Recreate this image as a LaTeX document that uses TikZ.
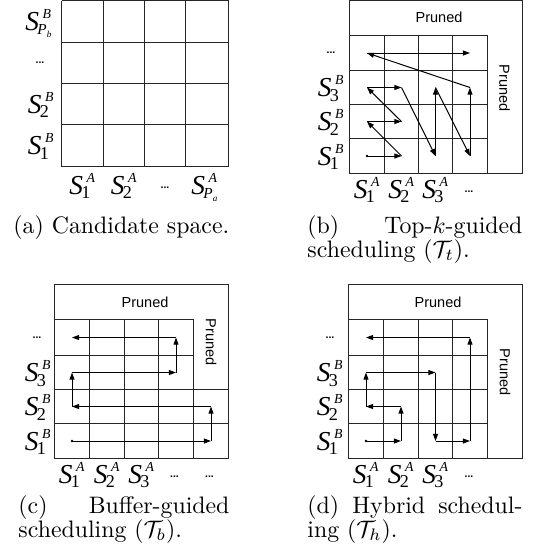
\documentclass[tikz,border=0pt]{standalone}
\usepackage{fontspec}
\usetikzlibrary{arrows.meta}
\newfontfamily\serifT{Liberation Serif}
\newfontfamily\serifI{Liberation Serif Italic}
\newfontfamily\sansH{Liberation Sans}
\newcommand{\lblS}[2]{%
 {\serifI\fontsize{11.5}{13}\selectfont S}%
 \rlap{\raisebox{5pt}{\serifI\fontsize{5.8}{6}\selectfont\kern1.5pt #2}}%
 \raisebox{-2pt}{\serifT\fontsize{7.6}{8}\selectfont\kern-0.7pt #1}\kern2.2pt}
\newcommand{\Psub}[1]{{\serifI\fontsize{6.4}{7}\selectfont P}\raisebox{-1.3pt}{\serifI\fontsize{3.8}{4}\selectfont #1}}
\begin{document}
\begin{tikzpicture}[x=0.42pt,y=-0.42pt,
  gridln/.style={draw=black!85, line width=0.42pt},
  flowarr/.style={-{Triangle[length=3pt,width=2.1pt]}, line width=0.42pt},
  slbl/.style={inner sep=0pt, anchor=base},
  dotlbl/.style={inner sep=0pt, font=\sansH\bfseries\fontsize{4.4}{5}\selectfont},
  prlbl/.style={inner sep=0pt, font=\sansH\fontsize{6.1}{7}\selectfont},
  captxt/.style={inner sep=0pt, anchor=base west, font=\fontsize{10}{12}\selectfont}]
\useasboundingbox (0,0) rectangle (533,555);

% ---------------- (a) ----------------
\foreach \x in {61.5,103.5,144.5,185.5,228.5} \draw[gridln] (\x,0.5) -- (\x,166.5);
\foreach \y in {0.5,42.5,83.5,124.5,166.5} \draw[gridln] (61.5,\y) -- (228.5,\y);
\node[slbl] (aL4) at (41,30) {\lblS{\Psub{b}}{B}};
\node[dotlbl] (aL3) at (40,63) {...};
\node[slbl] (aL2) at (41,113) {\lblS{2}{B}};
\node[slbl] (aL1) at (41,154.5) {\lblS{1}{B}};
\node[slbl] (aC1) at (82.5,194) {\lblS{1}{A}};
\node[slbl] (aC2) at (124,194) {\lblS{2}{A}};
\node[dotlbl] (aC3) at (165,188) {...};
\node[slbl] (aC4) at (207,194) {\lblS{\Psub{a}}{A}};
\node[captxt] (capa) at (13,233) {(a) Candidate space.};

% ---------------- (b) ----------------
\draw[gridln] (349.5,0.5) rectangle (522.5,173.5);
\foreach \x in {384.5,418.5,452.5,487.5} \draw[gridln] (\x,35.5) -- (\x,173.5);
\foreach \y in {35.5,70.5,104.5,138.5} \draw[gridln] (349.5,\y) -- (487.5,\y);
\node[prlbl] (bP1) at (439,17) {Pruned};
\node[prlbl,rotate=-90] (bP2) at (504.5,88) {Pruned};
\node[dotlbl] (bL4) at (331,53) {...};
\node[slbl] (bL3) at (331,96.5) {\lblS{3}{B}};
\node[slbl] (bL2) at (331,130.5) {\lblS{2}{B}};
\node[slbl] (bL1) at (331,165) {\lblS{1}{B}};
\node[slbl] (bC1) at (367,198) {\lblS{1}{A}};
\node[slbl] (bC2) at (401.5,198) {\lblS{2}{A}};
\node[slbl] (bC3) at (435.5,198) {\lblS{3}{A}};
\node[dotlbl] (bC4) at (469,192) {...};
\foreach \i/\x in {1/367,2/401.5,3/435.5,4/470}
  \foreach \j/\y in {1/156,2/121.5,3/87.5,4/53}
    \coordinate (b\i\j) at (\x,\y);
\fill (b11) circle (0.6pt);
\draw[flowarr] (b11) -- (b21);
\draw[flowarr] (b21) -- (b12);
\draw[flowarr] (b12) -- (b22);
\draw[flowarr] (b22) -- (b13);
\draw[flowarr] (b13) -- (b23);
\draw[flowarr] (b23) -- (b31);
\draw[flowarr] (b31) -- (b33);
\draw[flowarr] (b33) -- (b41);
\draw[flowarr] (b41) -- (b43);
\draw[flowarr] (b43) -- (b14);
\draw[flowarr] (b14) -- (b44);
\node[captxt] (capb1) at (307,233) {\hbox to 90.3pt{(b)\hfill Top-$k$-guided}};
\node[captxt] (capb2) at (307,257) {scheduling ($\mathcal{T}_t$).};

% ---------------- (c) ----------------
\draw[gridln] (54.5,284.5) rectangle (228.5,458.5);
\foreach \x in {89.5,124.5,158.5,193.5} \draw[gridln] (\x,319.5) -- (\x,458.5);
\foreach \y in {319.5,355.5} \draw[gridln] (54.5,\y) -- (193.5,\y);
\foreach \y in {389.5,423.5} \draw[gridln] (54.5,\y) -- (228.5,\y);
\node[prlbl] (cP1) at (145,302) {Pruned};
\node[prlbl,rotate=-90] (cP2) at (211,342) {Pruned};
\node[dotlbl] (cL4) at (37,337.5) {...};
\node[slbl] (cL3) at (38,381.5) {\lblS{3}{B}};
\node[slbl] (cL2) at (38,415.5) {\lblS{2}{B}};
\node[slbl] (cL1) at (38,450) {\lblS{1}{B}};
\node[slbl] (cC1) at (72,483) {\lblS{1}{A}};
\node[slbl] (cC2) at (107,483) {\lblS{2}{A}};
\node[slbl] (cC3) at (141.5,483) {\lblS{3}{A}};
\node[dotlbl] (cC4) at (174.5,477) {...};
\node[dotlbl] (cC5) at (209.5,477) {...};
\foreach \i/\x in {1/72,2/107,3/141.5,4/176,5/211}
  \foreach \j/\y in {1/441,2/406.5,3/372.5,4/337.5}
    \coordinate (c\i\j) at (\x,\y);
\fill (c11) circle (0.6pt);
\draw[flowarr] (c11) -- (c51);
\draw[flowarr] (c51) -- (c52);
\draw[flowarr] (c52) -- (c12);
\draw[flowarr] (c12) -- (c13);
\draw[flowarr] (c13) -- (c43);
\draw[flowarr] (c43) -- (c44);
\draw[flowarr] (c44) -- (c14);
\node[captxt] (capc1) at (18,513) {\hbox to 88.6pt{(c)\hfill Buffer-guided}};
\node[captxt] (capc2) at (18,537) {scheduling ($\mathcal{T}_b$).};

% ---------------- (d) ----------------
\draw[gridln] (348.5,284.5) rectangle (522.5,458.5);
\foreach \x in {383.5,418.5,452.5,487.5} \draw[gridln] (\x,319.5) -- (\x,458.5);
\foreach \y in {319.5,355.5,389.5,423.5} \draw[gridln] (348.5,\y) -- (487.5,\y);
\node[prlbl] (dP1) at (438,302) {Pruned};
\node[prlbl,rotate=-90] (dP2) at (505,372) {Pruned};
\node[dotlbl] (dL4) at (330,337.5) {...};
\node[slbl] (dL3) at (330,381.5) {\lblS{3}{B}};
\node[slbl] (dL2) at (330,415.5) {\lblS{2}{B}};
\node[slbl] (dL1) at (330,450) {\lblS{1}{B}};
\node[slbl] (dC1) at (366,483) {\lblS{1}{A}};
\node[slbl] (dC2) at (401,483) {\lblS{2}{A}};
\node[slbl] (dC3) at (435.5,483) {\lblS{3}{A}};
\node[dotlbl] (dC4) at (469,477) {...};
\foreach \i/\x in {1/366,2/401,3/435.5,4/470}
  \foreach \j/\y in {1/441,2/406.5,3/372.5,4/337.5}
    \coordinate (d\i\j) at (\x,\y);
\fill (d11) circle (0.6pt);
\draw[flowarr] (d11) -- (d21);
\draw[flowarr] (d21) -- (d22);
\draw[flowarr] (d22) -- (d12);
\draw[flowarr] (d12) -- (d13);
\draw[flowarr] (d13) -- (d33);
\draw[flowarr] (d33) -- (d31);
\draw[flowarr] (d31) -- (d41);
\draw[flowarr] (d41) -- (d44);
\draw[flowarr] (d44) -- (d14);
\node[captxt] (capd1) at (307,513) {\hbox to 90.3pt{(d)\hfill Hybrid\hfill schedul-}};
\node[captxt] (capd2) at (307,537) {ing ($\mathcal{T}_h$).};
\end{tikzpicture}
\end{document}
